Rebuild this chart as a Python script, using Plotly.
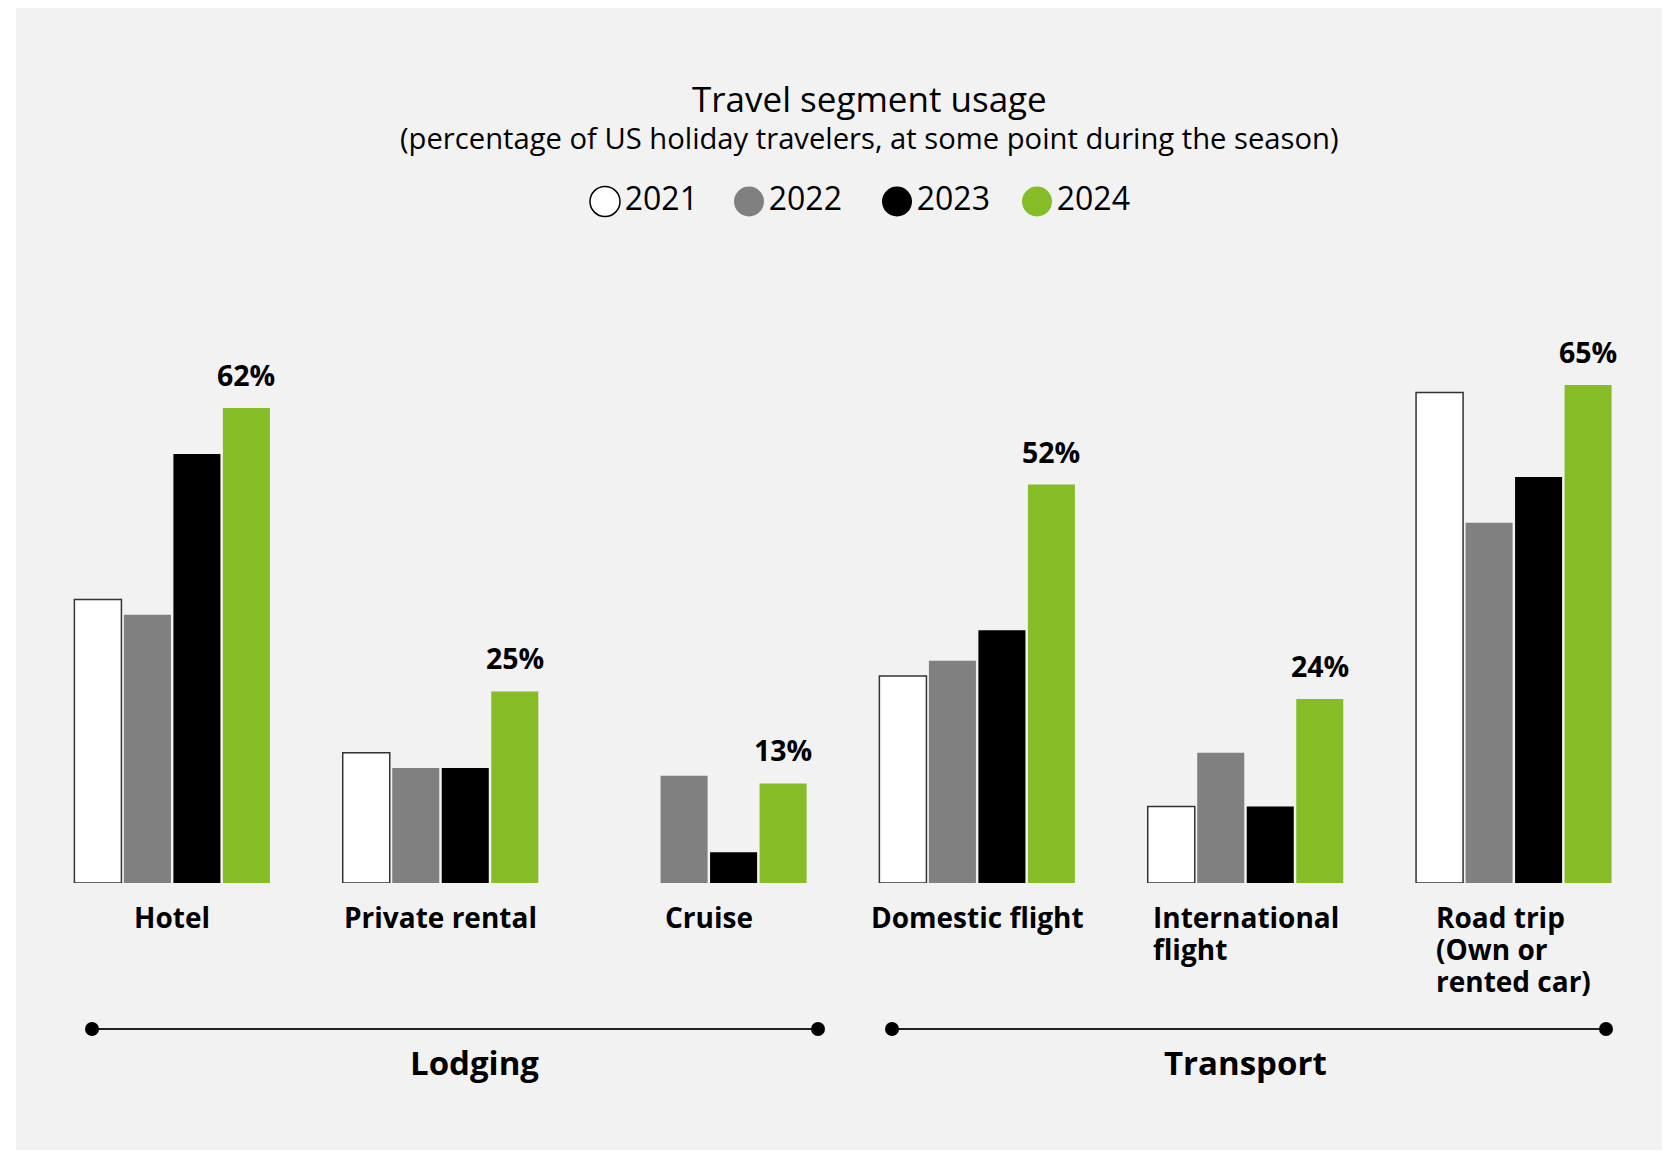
import plotly.graph_objects as go

# ── data ─────────────────────────────────────────────
categories = ["Hotel", "Private rental", "Cruise", "Domestic flight",
              "International flight", "Road trip (Own or rented car)"]
category_lines = [["Hotel"], ["Private rental"], ["Cruise"], ["Domestic flight"],
                  ["International", "flight"], ["Road trip", "(Own or", "rented car)"]]
years = ["2021", "2022", "2023", "2024"]
usage_2021 = [37, 17, None, 27, 10, 64]
usage_2022 = [35, 15, 14, 29, 17, 47]
usage_2023 = [56, 15, 4, 33, 10, 53]
usage_2024 = [62, 25, 13, 52, 24, 65]
groups = ["Lodging", "Transport"]

series = [usage_2021, usage_2022, usage_2023, usage_2024]
fills = ["#ffffff", "#808080", "#000000", "#86bc25"]
outlines = ["#333333", "#808080", "#000000", "#86bc25"]
outline_w = [1.5, 0, 0, 0]

# ── page geometry (screen pixels) ────────────────────
W, H = 1670, 1151
OFF = 8                            # page body margin the figure sits inside
PLOT_L, PLOT_R = 38, 1648          # category axis span
BASE_Y, TOP_Y = 883, 270           # bar baseline / top of value axis
Y_MAX = 80
BARGAP, GROUPGAP = 0.262, 0.05
FONT = "Open Sans"

LEGEND_X = [605, 749, 897, 1037]
LEGEND_Y = 201.5
GROUP_LABEL_X = [474.5, 1245.5]
BRACKETS = [(92, 818), (892, 1606)]
BRACKET_Y = 1029

fig = go.Figure()

for year, vals, fc, lc, lw in zip(years, series, fills, outlines, outline_w):
    fig.add_trace(go.Bar(
        x=categories, y=vals, name=year,
        marker=dict(color=fc, line=dict(color=lc, width=lw)),
        showlegend=False, hoverinfo="x+y",
    ))

# custom legend: big round swatches, drawn on a pixel-unit overlay axis
for year, x, fc in zip(years, LEGEND_X, fills):
    fig.add_trace(go.Scatter(
        x=[x], y=[LEGEND_Y], mode="markers+text", xaxis="x2", yaxis="y2",
        text=[year], textposition="middle right",
        textfont=dict(family=FONT, size=32, color="#000000"),
        marker=dict(size=30, color=fc,
                    line=dict(color="#000000", width=1.5 if fc == "#ffffff" else 0)),
        showlegend=False, hoverinfo="skip", cliponaxis=False,
    ))

# group brackets (Lodging / Transport)
for (x0, x1) in BRACKETS:
    fig.add_trace(go.Scatter(
        x=[x0, x1], y=[BRACKET_Y, BRACKET_Y], mode="lines+markers",
        xaxis="x2", yaxis="y2",
        line=dict(color="#222222", width=2),
        marker=dict(size=14, color="#000000"),
        showlegend=False, hoverinfo="skip", cliponaxis=False,
    ))

annotations = []

# title + subtitle
annotations.append(dict(x=869, y=98, xref="x2", yref="y2", text="Travel segment usage",
                        showarrow=False, font=dict(family=FONT, size=35, color="#000000")))
annotations.append(dict(x=869, y=137.5, xref="x2", yref="y2",
                        text="(percentage of US holiday travelers, at some point during the season)",
                        showarrow=False, font=dict(family=FONT, size=29.2, color="#000000")))

# category labels (left-aligned lines, block centred under each group)
for i, lines in enumerate(category_lines):
    txt = "<br>".join(f"<span style='font-size:28px'>{ln}</span>" for ln in lines)
    annotations.append(dict(x=i, y=0, xref="x", yref="y", text=txt, showarrow=False,
                            xanchor="center", yanchor="top", align="left", yshift=-13,
                            font=dict(family=FONT, size=24.5, color="#000000", weight="bold")))

# value labels over the 2024 bars
green_offset = 1.5 * (1 - BARGAP) / 4
for i, v in enumerate(usage_2024):
    annotations.append(dict(x=i + green_offset, y=v, xref="x", yref="y", text=f"{v}%",
                            showarrow=False, yanchor="bottom", yshift=12,
                            font=dict(family=FONT, size=28.5, color="#000000", weight="bold")))

# group names
for g, gx in zip(groups, GROUP_LABEL_X):
    annotations.append(dict(x=gx, y=1062.6, xref="x2", yref="y2", text=g, showarrow=False,
                            font=dict(family=FONT, size=33, color="#000000", weight="bold")))

fig.update_layout(
    width=W, height=H,
    margin=dict(l=0, r=0, t=0, b=0),
    paper_bgcolor="#ffffff",
    plot_bgcolor="rgba(0,0,0,0)",
    font=dict(family=FONT, color="#000000"),
    barmode="group", bargap=BARGAP, bargroupgap=GROUPGAP,
    xaxis=dict(domain=[(PLOT_L - OFF) / W, (PLOT_R - OFF) / W], showticklabels=False,
               showgrid=False, zeroline=False, showline=False, ticks="", fixedrange=True),
    yaxis=dict(domain=[(H - BASE_Y + OFF) / H, (H - TOP_Y + OFF) / H], range=[0, Y_MAX],
               visible=False, showgrid=False, zeroline=False, fixedrange=True),
    xaxis2=dict(domain=[0, 1], range=[OFF, W + OFF], visible=False, anchor="y2",
                fixedrange=True),
    yaxis2=dict(domain=[0, 1], range=[H + OFF, OFF], visible=False, anchor="x2",
                fixedrange=True),
    annotations=annotations,
    shapes=[dict(type="rect", xref="paper", yref="paper", layer="below",
                 x0=(16 - OFF) / W, x1=(1667 - OFF) / W, y0=1 - (1150 - OFF) / H, y1=1,
                 fillcolor="#f2f2f2", line=dict(width=0))],
    showlegend=False,
)

fig.write_html("out.html")
